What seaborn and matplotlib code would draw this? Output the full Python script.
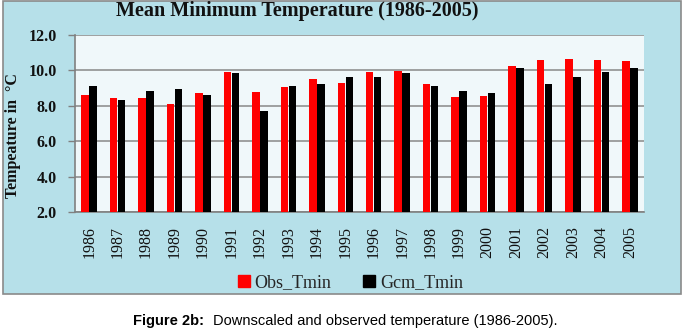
import matplotlib
matplotlib.use("Agg")
import matplotlib.pyplot as plt
import seaborn as sns
import pandas as pd
from matplotlib.patches import Rectangle
from matplotlib.lines import Line2D

years = ["1986", "1987", "1988", "1989", "1990", "1991", "1992", "1993", "1994", "1995",
         "1996", "1997", "1998", "1999", "2000", "2001", "2002", "2003", "2004", "2005"]
obs_tmin = [8.62, 8.45, 8.42, 8.11, 8.73, 9.92, 8.79, 9.07, 9.53, 9.30,
            9.92, 9.98, 9.24, 8.51, 8.56, 10.26, 10.60, 10.66, 10.60, 10.54]
gcm_tmin = [9.13, 8.34, 8.85, 8.96, 8.62, 9.87, 7.72, 9.13, 9.24, 9.64,
            9.64, 9.87, 9.13, 8.85, 8.73, 10.15, 9.24, 9.64, 9.92, 10.15]
series_names = ["Obs_Tmin", "Gcm_Tmin"]
colors = ["#FF0000", "#000000"]
yticks = [2.0, 4.0, 6.0, 8.0, 10.0, 12.0]

df = pd.DataFrame({
    "Year": years * 2,
    "Temp": obs_tmin + gcm_tmin,
    "Series": [series_names[0]] * len(years) + [series_names[1]] * len(years),
})

sns.set_theme(style="white")
W, H = 685, 332
fig = plt.figure(figsize=(W / 100, H / 100), dpi=100)
fig.patch.set_facecolor("white")

# textured-looking panel background
panel = Rectangle((3 / W, 1 - 294 / H), 678 / W, 293 / H, transform=fig.transFigure,
                  facecolor="#B6E0E9", edgecolor="#8A8A8A", linewidth=1.2, zorder=-5)
fig.patches.append(panel)

ax = fig.add_axes([75 / W, 1 - 212 / H, 569 / W, 177 / H])
ax.set_zorder(2)
ax.set_facecolor("#F0F8FA")

sns.barplot(data=df, x="Year", y="Temp", hue="Series", palette=colors, ax=ax,
            width=0.56, gap=0.06, saturation=1, linewidth=0, legend=False, zorder=3)

ax.set_ylim(2, 12)
ax.set_yticks(yticks)
ax.set_yticklabels([f"{v:.1f}" for v in yticks], fontfamily="Liberation Serif",
                   fontweight="bold", fontsize=11.5, color="#111111")
ax.set_xlim(-0.5, len(years) - 0.5)
ax.set_xticks(range(len(years)))
ax.set_xticklabels(years, rotation=90, fontfamily="Liberation Serif", fontsize=11.5,
                   color="#111111")
ax.tick_params(axis="x", length=0, pad=10)
ax.tick_params(axis="y", length=5, width=1, color="#808080", left=True, pad=8)
ax.grid(axis="y", color="#888888", linewidth=1.1, zorder=1)
ax.set_axisbelow(True)
for s in ["top", "right"]:
    ax.spines[s].set_visible(False)
for s in ["left", "bottom"]:
    ax.spines[s].set_color("#808080")
    ax.spines[s].set_linewidth(1.2)
ax.set_xlabel("")
ax.set_ylabel("Tempeature in  °C", fontfamily="Liberation Serif", fontweight="bold",
              fontsize=11.5, color="#111111", labelpad=4)
ax.yaxis.set_label_coords(-0.095, 0.43)

fig.text(297 / W, 1 - 11 / H, "Mean Minimum Temperature (1986-2005)",
         fontfamily="Liberation Serif", fontweight="bold", fontsize=14.5,
         ha="center", va="center", color="#111111")

handles = [Line2D([], [], marker="s", linestyle="none", markersize=8,
                  markerfacecolor=c, markeredgecolor=c) for c in colors]
fig.legend(handles, series_names, loc="center", bbox_to_anchor=(349 / W, 1 - 283 / H),
           ncol=2, frameon=False, prop={"family": "Liberation Serif", "size": 13},
           handletextpad=0.1, columnspacing=1.6, handlelength=1.0)

# caption
t1 = fig.text(133 / W, 1 - 321 / H, "Figure 2b:", fontfamily="Liberation Sans",
              fontweight="bold", fontsize=10.5, ha="left", va="center", color="black")
fig.canvas.draw()
bb = t1.get_window_extent(fig.canvas.get_renderer())
fig.text((bb.x1 + 9) / W, 1 - 321 / H, "Downscaled and observed temperature (1986-2005).",
         fontfamily="Liberation Sans", fontsize=10.5, ha="left", va="center", color="black")

fig.savefig("out.png", dpi=100)
